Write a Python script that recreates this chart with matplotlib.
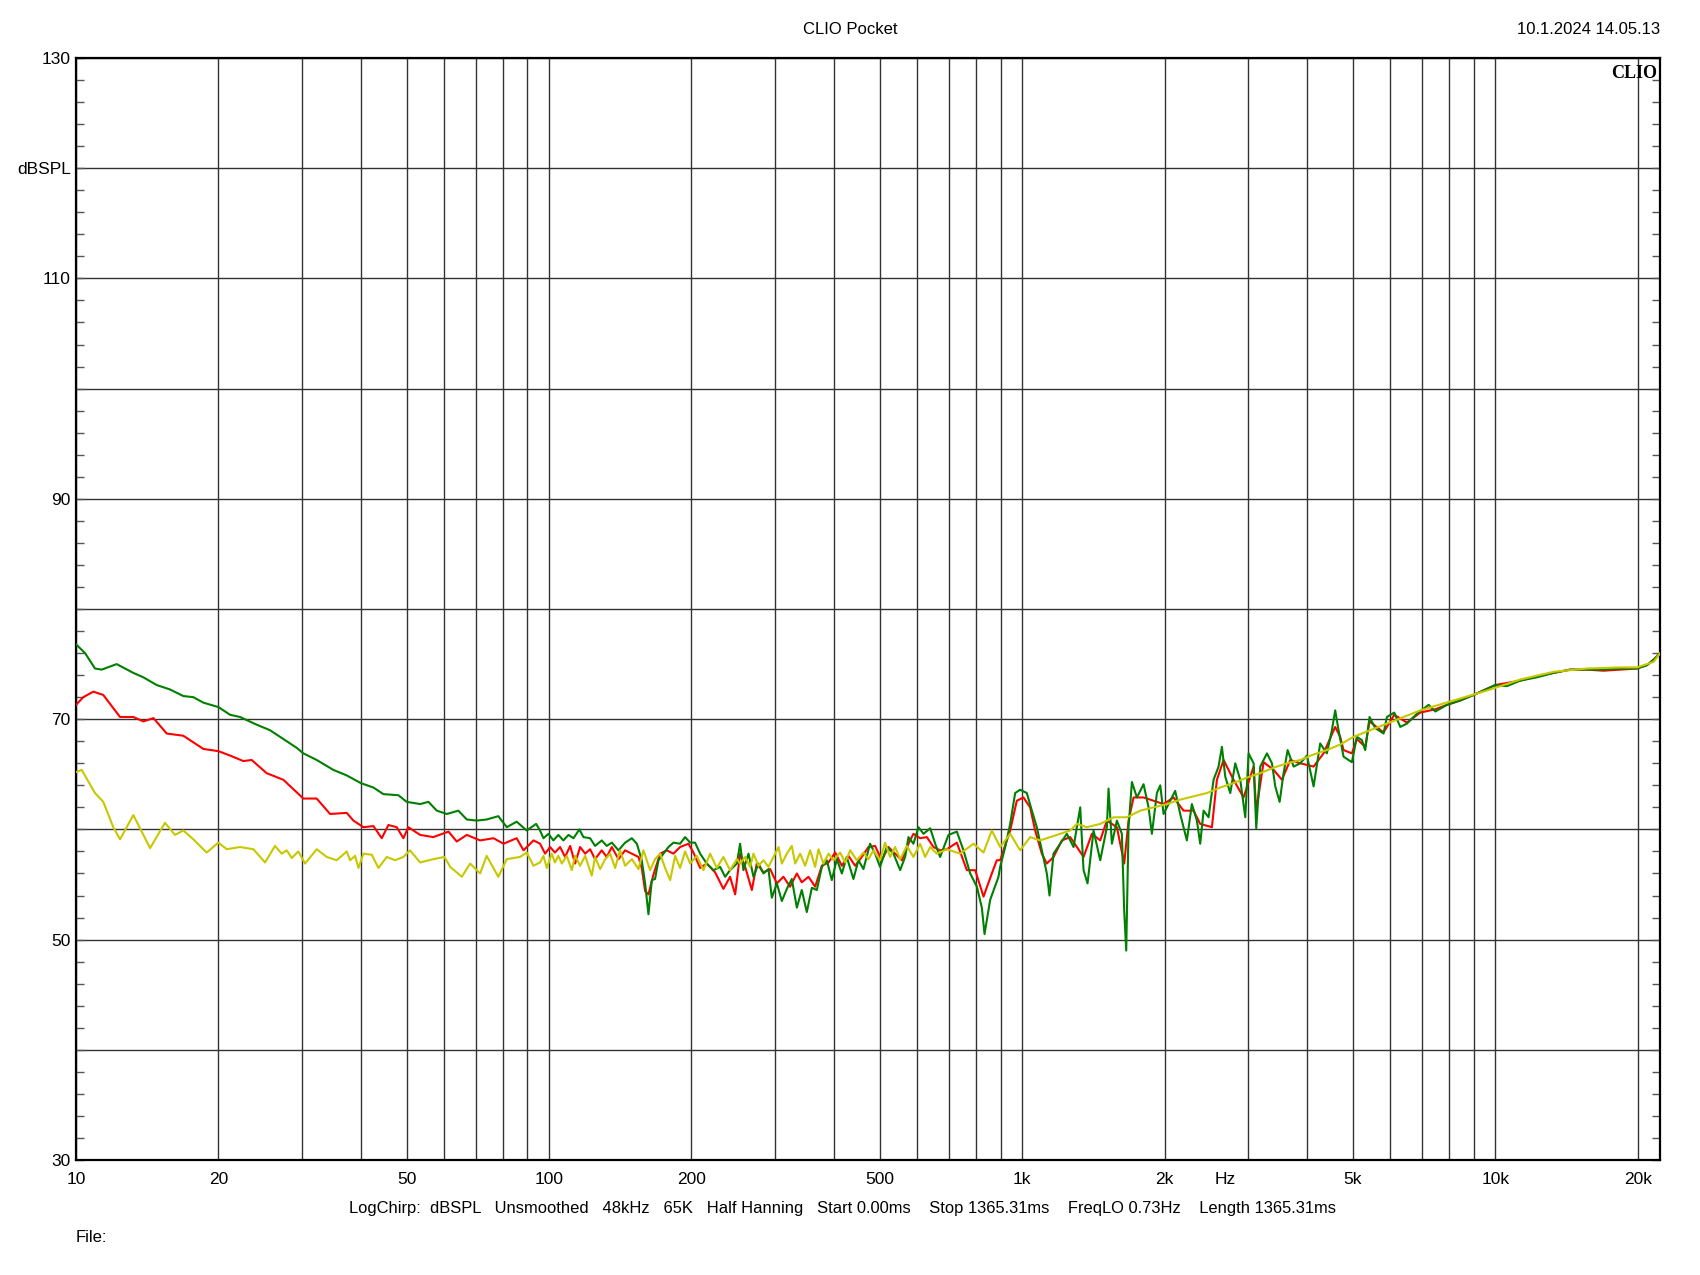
import matplotlib
matplotlib.use('Agg')
import matplotlib.pyplot as plt
from matplotlib.ticker import FixedLocator, NullFormatter, MultipleLocator, FixedFormatter
import matplotlib.transforms as mtransforms

plt.rcParams['font.family'] = ['Liberation Sans', 'DejaVu Sans']

# ---------------- data ----------------
green_f = [10.0, 10.45, 10.97, 11.33, 12.19, 13.22, 13.88, 14.81, 15.80, 16.86, 17.70, 18.59, 20.0, 21.17,
           22.22, 24.10, 25.71, 27.00, 29.28, 30.24, 32.27, 34.99, 37.35, 40.0, 42.53, 44.65, 48.03,
           50.0, 53.4, 55.6, 57.9, 60.8, 64.3, 67.0, 70.3, 73.8, 78.1, 81.4, 85.4, 89.7, 93.9,
           95.7, 97.3, 99.7, 102.1, 104.6, 107.2, 109.9, 112.6, 115.9, 118.2, 122.1, 125.1, 129.2,
           132.4, 135.7, 140.2, 144.8, 149.6, 153.3, 157.0, 159.6, 162.2, 164.9, 167.5, 170.3, 174.5,
           178.8, 183.2, 189.2, 193.9, 198.7, 203.5, 208.6, 215.4, 222.6, 229.9, 235.6, 241.3, 249.4,
           253.4, 257.5, 264.0, 270.4, 277.1, 283.9, 290.9, 295.7, 303.0, 310.5, 318.1, 325.9, 334.0,
           342.1, 350.6, 359.3, 368.1, 377.2, 386.4, 396.0, 405.8, 415.8, 425.9, 439.9, 450.8, 461.9,
           477.0, 488.9, 500.7, 517.3, 534.6, 552.2, 565.7, 575.0, 589.1, 603.7, 618.7, 639.2, 654.9,
           670.9, 698.7, 727.7, 751.6, 776.5, 802.2, 821.9, 832.7, 855.8, 891.2,
           898.5, 920.7, 943.4, 966.5, 990.4, 1023.0, 1048.4, 1074.0, 1100.5, 1127.7, 1142.4, 1165.0,
           1203.3, 1243.1, 1284.2, 1326.6, 1348.4, 1374.8, 1415.6, 1462.3, 1510.5, 1522.7, 1547.7,
           1585.9, 1624.8, 1643.3, 1659.6, 1678.5, 1706.1, 1748.0, 1805.7, 1850.3, 1880.5, 1926.9,
           1958.5, 1990.5, 2056.1, 2106.2, 2158.1, 2229.4, 2284.4, 2341.0, 2379.0, 2418.3, 2477.9,
           2538.7, 2601.3, 2644.1, 2687.1, 2753.5, 2821.6, 2890.6, 2962.3, 3010.5, 3084.9, 3125.0,
           3186.8, 3291.9, 3373.3, 3428.1, 3501.5, 3569.9, 3640.5, 3748.6, 3871.5, 3999.3, 4131.3,
           4265.8, 4406.7, 4515.6, 4589.1, 4664.7, 4779.2, 4977.3, 5099.3, 5225.3, 5311.4, 5423.9,
           5575.8, 5806.4, 5902.1, 6116.6, 6298.1, 6505.9, 6832.7, 7231.2, 7469.8, 7906.9, 8433.5,
           9000, 10000, 10585, 11294, 12245, 13286, 14409, 15626, 16944, 18378, 19932, 20922, 21613, 22327]
green_db = [76.8, 76.0, 74.6, 74.5, 75.0, 74.2, 73.8, 73.1, 72.7, 72.1, 72.0, 71.5, 71.1, 70.4,
            70.2, 69.5, 69.0, 68.4, 67.4, 66.9, 66.3, 65.4, 64.9, 64.2, 63.8, 63.2, 63.1,
            62.5, 62.3, 62.5, 61.7, 61.4, 61.7, 60.9, 60.8, 60.9, 61.2, 60.2, 60.7, 59.9, 60.5,
            59.9, 59.2, 59.6, 59.0, 59.5, 59.0, 59.5, 59.2, 60.0, 59.3, 59.2, 58.5, 59.0,
            58.5, 58.8, 58.1, 58.8, 59.2, 58.7, 57.2, 55.1, 52.3, 55.4, 55.5, 57.2, 57.8,
            58.4, 58.8, 58.7, 59.3, 58.8, 58.8, 57.8, 56.9, 56.3, 56.6, 55.7, 56.3, 56.9,
            58.7, 56.3, 57.8, 55.7, 56.9, 56.0, 56.4, 53.8, 55.1, 53.5, 54.6, 55.5, 52.9,
            54.5, 52.5, 54.7, 54.5, 56.6, 57.2, 55.4, 57.3, 56.0, 57.5, 55.5, 57.2, 56.4,
            58.7, 57.8, 56.6, 58.4, 57.8, 56.3, 57.5, 59.3, 58.7, 60.2, 59.6, 60.1, 58.7,
            57.5, 59.5, 59.8, 58.1, 56.0, 54.8, 52.9, 50.5, 53.6, 55.7,
            56.6, 58.4, 60.5, 63.3, 63.6, 63.3, 61.7, 60.2, 58.1, 56.0, 54.0, 57.8,
            58.7, 59.6, 58.4, 62.0, 56.3, 55.1, 59.9, 57.2, 60.2, 63.7, 58.7,
            60.8, 59.6, 52.6, 49.0, 60.2, 64.3, 62.9, 64.1, 62.0, 59.6, 63.3,
            64.0, 61.4, 62.6, 63.5, 61.4, 59.0, 62.3, 60.8, 58.7, 61.7, 61.1,
            64.5, 65.7, 67.5, 64.8, 63.3, 66.0, 64.5, 61.1, 66.9, 66.0, 60.1,
            65.7, 66.9, 66.0, 63.9, 62.5, 65.1, 67.2, 65.7, 66.0, 66.7, 63.9,
            67.8, 66.9, 69.0, 70.8, 69.0, 66.6, 66.1, 68.4, 68.1, 67.2, 70.2,
            69.2, 68.7, 70.2, 70.6, 69.3, 69.6, 70.5, 71.3, 70.7, 71.3, 71.7,
            72.2, 73.1, 73.0, 73.5, 73.8, 74.2, 74.5, 74.5, 74.5, 74.6, 74.6, 74.9, 75.4, 76.0]

red_f = [10.0, 10.36, 10.88, 11.42, 11.99, 12.39, 13.22, 13.88, 14.58, 15.55, 16.86, 18.59, 20.0, 21.17,
         22.58, 23.51, 25.30, 27.44, 30.24, 32.27, 34.44, 37.35, 38.58, 40.52, 42.53, 44.29, 45.75,
         47.64, 49.21,
         50.4, 53.4, 56.9, 61.3, 63.8, 67.0, 71.5, 76.3, 80.1, 85.4, 88.3, 92.7,
         95.7, 98.1, 100.5, 102.9, 105.5, 108.1, 110.8, 113.5, 116.3, 119.2, 122.1, 125.1, 129.2,
         132.4, 135.7, 140.2, 144.8, 149.6, 154.5, 157.0, 159.6, 162.2, 166.2, 171.7, 177.4, 183.2,
         189.2, 197.1, 201.9, 208.6, 215.4, 224.4, 233.6, 241.3, 247.4,
         253.4, 259.7, 268.3, 274.8, 283.9, 293.3, 303.0, 312.9, 323.2, 334.0, 342.1, 353.5, 365.1,
         377.2, 389.6, 402.5, 415.8, 429.4, 443.6, 458.1, 473.2, 488.9, 504.8, 521.6, 538.9, 556.7,
         575.0, 589.1, 608.6, 628.9, 649.5, 670.9,
         693.1, 727.7, 764.0, 795.7, 828.6, 862.7, 884.0,
         898.5, 943.4, 974.3, 1006.5, 1039.7, 1065.4, 1100.5, 1127.7, 1165.0, 1213.4, 1263.5, 1348.4,
         1404.2, 1462.3, 1510.5, 1585.9, 1643.3, 1678.5, 1720.0, 1805.7, 1896.0, 1990.5, 2089.3,
         2193.6, 2303.0, 2379.0, 2518.3, 2580.3, 2665.5, 2798.3, 2937.9, 3084.9, 3125.0, 3238.6,
         3400.6, 3541.3, 3687.8, 3871.5, 4131.3, 4336.1, 4589.1, 4702.2,
         4779.2, 4977.3, 5099.3, 5311.4, 5423.9, 5806.4, 6116.6, 6505.9, 6942.3, 7469.8, 7906.9,
         8433.5, 9000, 10000, 11294, 12245, 13286, 14409, 15626, 16944, 18378, 19932, 20922, 21613, 22327]
red_db = [71.3, 72.0, 72.5, 72.2, 71.0, 70.2, 70.2, 69.8, 70.1, 68.7, 68.5, 67.3, 67.1, 66.7,
          66.2, 66.3, 65.1, 64.5, 62.8, 62.8, 61.4, 61.5, 60.8, 60.2, 60.3, 59.2, 60.4,
          60.2, 59.2,
          60.2, 59.5, 59.3, 59.8, 58.9, 59.5, 59.0, 59.2, 58.7, 59.2, 58.1, 59.0,
          58.7, 57.8, 58.4, 57.9, 58.4, 57.5, 58.5, 56.9, 58.4, 57.8, 58.2, 57.3, 58.1,
          57.5, 58.4, 57.3, 58.1, 57.8, 57.5, 56.5, 54.4, 54.1, 55.9, 57.8, 58.1, 57.8,
          58.4, 58.7, 57.9, 56.5, 56.9, 56.1, 54.6, 55.7, 54.1,
          57.8, 56.6, 54.5, 56.9, 56.1, 56.4, 55.1, 55.7, 54.8, 56.0, 55.2, 55.7, 54.8,
          56.7, 57.0, 57.9, 56.7, 57.6, 56.7, 57.5, 58.4, 58.5, 57.2, 58.4, 57.8, 57.2,
          58.7, 59.6, 59.2, 59.3, 58.4, 58.1,
          58.2, 58.8, 56.3, 56.3, 53.9, 56.0, 57.2,
          57.2, 59.9, 62.6, 62.9, 62.0, 59.9, 57.8, 56.9, 57.5, 59.0, 59.3, 57.5,
          59.6, 59.0, 60.8, 60.2, 56.9, 60.8, 62.9, 62.9, 62.6, 62.3, 62.9,
          61.7, 61.7, 60.5, 60.2, 64.5, 66.3, 64.5, 62.9, 65.7, 61.7, 66.1,
          65.4, 64.5, 66.3, 66.0, 65.7, 66.9, 69.3, 68.4,
          67.2, 66.9, 68.2, 67.5, 69.8, 68.8, 70.4, 69.7, 70.6, 70.9, 71.3,
          71.7, 72.2, 73.1, 73.5, 73.9, 74.2, 74.5, 74.5, 74.4, 74.5, 74.6, 74.9, 75.4, 76.0]

yellow_f = [10.0, 10.28, 10.97, 11.42, 11.99, 12.39, 13.22, 14.34, 15.42, 16.19, 16.86, 17.70, 18.89,
            20.0, 20.83, 22.22, 23.71, 25.10, 26.34, 27.22, 27.89, 28.58, 29.51, 30.49, 32.27, 33.88,
            35.57, 37.35, 37.96, 38.90, 39.54, 40.52, 42.19, 43.58, 45.38, 47.25, 49.21,
            50.8, 53.4, 56.9, 60.1, 61.8, 65.4, 68.1, 71.5, 73.8, 78.1, 81.4, 86.8, 89.7, 92.7,
            95.7, 97.3, 98.9, 101.3, 102.9, 104.6, 106.4, 109.0, 111.7, 113.5, 116.3, 119.2, 123.1,
            125.1, 128.2, 131.4, 134.6, 137.9, 141.3, 144.8, 149.6, 154.5, 158.3, 163.5, 167.5, 171.7,
            175.9, 180.3, 184.7, 189.2, 193.9, 198.7, 205.2, 212.0, 219.0, 226.2, 233.6, 241.3, 249.4,
            253.4, 259.7, 266.1, 270.4, 277.1, 283.9, 290.9, 298.2, 305.5, 310.5, 318.1, 325.9, 331.3,
            339.4, 347.7, 356.3, 365.1, 371.1, 380.2, 389.6, 399.2, 412.3, 422.5, 433.0, 447.2, 461.9,
            473.2, 484.9, 500.7, 513.1, 525.8, 538.9, 552.2, 570.4, 589.1, 608.6, 623.6, 639.2, 660.3,
            693.1, 739.6, 789.3, 828.6, 862.7, 898.5,
            943.4, 990.4, 1039.7, 1091.6, 1146.2, 1203.3, 1263.5, 1305.3, 1370.3, 1462.3, 1560.3, 1665.0,
            1776.8, 1896.0, 2023.3, 2158.1, 2303.0, 2457.6, 2622.3, 2798.3, 2986.4, 3186.8, 3400.6,
            3628.7, 3871.5, 4131.3, 4406.7, 4702.2,
            5017.6, 5902.1, 6942.3, 8167.8, 9603.3, 11294, 13286, 15626, 18378, 19932, 21613, 22327]
yellow_db = [65.2, 65.4, 63.3, 62.5, 60.2, 59.1, 61.3, 58.3, 60.6, 59.5, 59.9, 59.1, 57.9,
             58.8, 58.2, 58.4, 58.2, 57.0, 58.5, 57.8, 58.1, 57.4, 58.0, 56.9, 58.2, 57.5,
             57.2, 58.0, 57.2, 57.6, 56.5, 57.8, 57.7, 56.5, 57.5, 57.2, 57.5,
             58.1, 57.0, 57.3, 57.5, 56.6, 55.7, 56.9, 56.0, 57.6, 55.7, 57.3, 57.5, 57.9, 56.7,
             57.0, 57.6, 56.5, 57.8, 57.0, 57.6, 56.9, 57.6, 56.3, 57.6, 56.7, 57.6, 55.8,
             57.5, 56.4, 57.3, 57.8, 56.5, 58.1, 56.7, 57.3, 56.4, 58.1, 56.3, 57.3, 57.8,
             56.5, 55.4, 57.6, 56.5, 58.0, 56.9, 57.6, 56.3, 57.8, 56.5, 57.5, 56.3, 57.3,
             56.9, 57.5, 56.6, 57.8, 56.7, 57.2, 56.6, 57.5, 58.4, 56.9, 57.8, 58.5, 56.9,
             57.8, 56.7, 58.1, 56.6, 58.2, 56.9, 57.8, 57.2, 57.9, 57.0, 58.1, 57.2, 57.9,
             57.3, 58.1, 57.2, 58.8, 57.5, 58.4, 57.3, 58.5, 57.5, 58.7, 57.5, 58.4, 57.8,
             58.2, 57.8, 58.7, 57.9, 59.9, 58.4,
             59.6, 58.1, 59.3, 59.0, 59.3, 59.6, 59.9, 60.5, 60.2, 60.5, 61.1, 61.1,
             61.7, 62.0, 62.3, 62.7, 63.0, 63.3, 63.8, 64.2, 64.7, 65.1, 65.6,
             66.0, 66.3, 66.8, 67.2, 67.7,
             68.4, 69.6, 70.8, 71.7, 72.6, 73.6, 74.3, 74.6, 74.7, 74.7, 75.2, 76.0]

x_labeled = [10, 20, 50, 100, 200, 500, 1000, 2000, 5000, 10000, 20000]
x_labels = ['10', '20', '50', '100', '200', '500', '1k', '2k', '5k', '10k', '20k']
x_grid_minor = [30, 40, 60, 70, 80, 90, 300, 400, 600, 700, 800, 900,
                3000, 4000, 6000, 7000, 8000, 9000]
y_major = [30, 40, 50, 60, 70, 80, 90, 100, 110, 120, 130]
y_labels = ['30', '', '50', '', '70', '', '90', '', '110', 'dBSPL', '130']

title_text = 'CLIO Pocket'
date_text = '10.1.2024 14.05.13'
info_text = 'LogChirp:  dBSPL   Unsmoothed   48kHz   65K   Half Hanning   Start 0.00ms    Stop 1365.31ms    FreqLO 0.73Hz    Length 1365.31ms'

# ---------------- figure ----------------
W, H = 1700, 1275
fig = plt.figure(figsize=(W / 100, H / 100), dpi=100)
L, R, T, B = 76, 1660, 58, 1160
ax = fig.add_axes([L / W, 1 - B / H, (R - L) / W, (B - T) / H])

ax.set_xscale('log')
ax.set_xlim(10, 22300)
ax.set_ylim(30, 130)

ax.xaxis.set_major_locator(FixedLocator(x_labeled))
ax.xaxis.set_major_formatter(FixedFormatter(x_labels))
ax.xaxis.set_minor_locator(FixedLocator(x_grid_minor))
ax.xaxis.set_minor_formatter(NullFormatter())
ax.tick_params(axis='x', which='both', length=0, pad=9, labelsize=12.5)

ax.yaxis.set_major_locator(FixedLocator(y_major))
ax.yaxis.set_major_formatter(FixedFormatter(y_labels))
ax.yaxis.set_minor_locator(MultipleLocator(2))
ax.tick_params(axis='y', which='both', direction='in', left=True, right=True,
               length=6, width=1.0, color='#555555', pad=3.8, labelsize=12.5)

ax.grid(True, which='major', axis='both', color='#333333', lw=1.0)
ax.grid(True, which='minor', axis='x', color='#333333', lw=1.0)
ax.set_axisbelow(True)

for s in ax.spines.values():
    s.set_linewidth(1.6)
    s.set_color('black')

ax.plot(red_f, red_db, color='#ff0000', lw=1.5, zorder=3)
ax.plot(green_f, green_db, color='#008000', lw=1.5, zorder=4)
ax.plot(yellow_f, yellow_db, color='#c8c800', lw=1.5, zorder=5)

trans = mtransforms.blended_transform_factory(ax.transData, ax.transAxes)
ax.text(2690, -0.0113, 'Hz', transform=trans, ha='center', va='top', fontsize=12.5)

ax.text(0.9985, 0.994, 'CLIO', transform=ax.transAxes, ha='right', va='top',
        fontsize=13, fontweight='bold', family=['Liberation Serif', 'DejaVu Serif'], zorder=6)

fig.text(850 / W, 1 - 29 / H, title_text, ha='center', va='center', fontsize=12)
fig.text(R / W, 1 - 29 / H, date_text, ha='right', va='center', fontsize=12)
fig.text(349 / W, 1 - 1208 / H, info_text, ha='left', va='center', fontsize=11.9)
fig.text(L / W, 1 - 1237 / H, 'File:', ha='left', va='center', fontsize=12)

fig.savefig('out.png', dpi=100, facecolor='white')
